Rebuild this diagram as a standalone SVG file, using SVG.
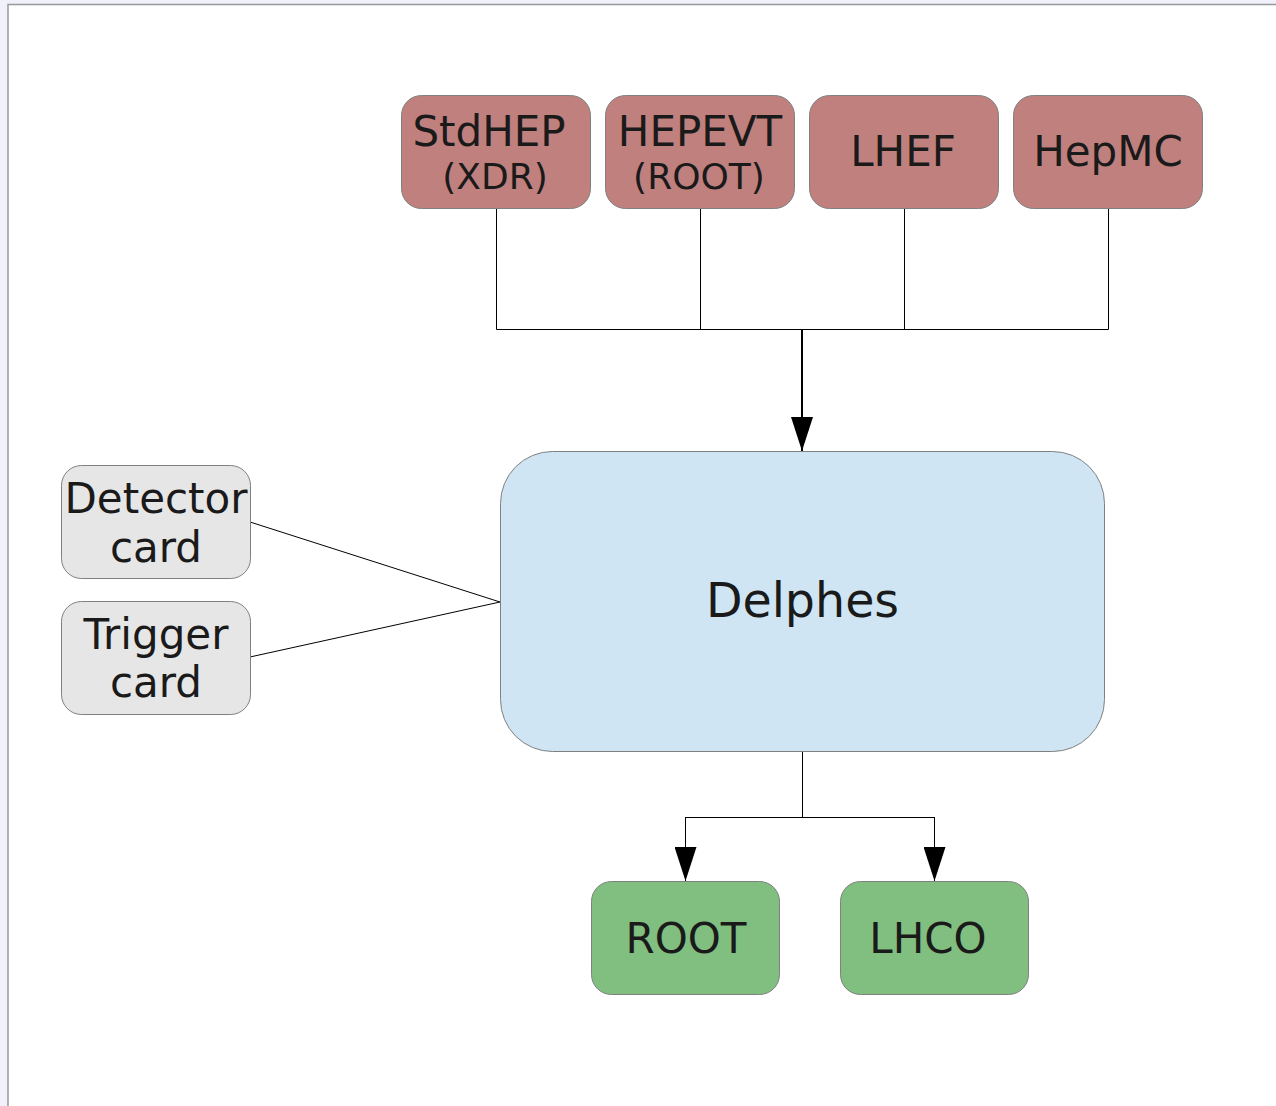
<svg xmlns="http://www.w3.org/2000/svg" width="1276" height="1106" viewBox="0 0 1276 1106">
<defs>
<style>
.t{font-family:"DejaVu Sans","Liberation Sans",sans-serif;fill:#1a1a1a;text-anchor:middle}
.src{fill:#c0807e;stroke:#808080;stroke-width:1}
.card{fill:#e6e6e6;stroke:#808080;stroke-width:1}
.out{fill:#80bf80;stroke:#808080;stroke-width:1}
.core{fill:#cfe5f3;stroke:#808080;stroke-width:1}
.thin{fill:none;stroke:#000;stroke-width:1}
.thick{fill:none;stroke:#000;stroke-width:2}
</style>
<marker id="ahd" viewBox="0 0 34 22" refX="34" refY="11" markerWidth="34" markerHeight="22" markerUnits="userSpaceOnUse" orient="auto">
<path d="M0,0 L34,11 L0,22 Z" fill="#000"/>
</marker>
</defs>
<rect x="0" y="0" width="1276" height="1106" fill="#f1f1fb"/>
<rect x="8" y="4.5" width="1270" height="1106" fill="#fff" stroke="#999" stroke-width="1.5"/>

<g id="connectors">
<path class="thin" d="M496.5,208 V329.5 M700.5,208 V329.5 M904.5,208 V329.5 M1108.5,208 V329.5 M496.5,329.5 H1108.5"/>
<path class="thick" d="M802,329 V451" marker-end="url(#ahd)"/>
<path class="thin" d="M250,522 L500,602 M250,657 L500,602"/>
<path class="thin" d="M802.5,752 V817.5 M685.5,817.5 H934.5"/>
<path class="thin" d="M685.5,817 V881" marker-end="url(#ahd)"/>
<path class="thin" d="M934.5,817 V881" marker-end="url(#ahd)"/>
</g>

<g id="stdhep">
<rect class="src" x="401.5" y="95.5" width="189" height="113" rx="20"/>
<text class="t" x="489" y="146" font-size="42">StdHEP</text>
<text class="t" x="495" y="189" font-size="36">(XDR)</text>
</g>
<g id="hepevt">
<rect class="src" x="605.5" y="95.5" width="189" height="113" rx="20"/>
<text class="t" x="700" y="146" font-size="42">HEPEVT</text>
<text class="t" x="699" y="189" font-size="36">(ROOT)</text>
</g>
<g id="lhef">
<rect class="src" x="809.5" y="95.5" width="189" height="113" rx="20"/>
<text class="t" x="903" y="166" font-size="42">LHEF</text>
</g>
<g id="hepmc">
<rect class="src" x="1013.5" y="95.5" width="189" height="113" rx="20"/>
<text class="t" x="1108" y="166" font-size="42">HepMC</text>
</g>

<g id="detector">
<rect class="card" x="61.5" y="465.5" width="189" height="113" rx="20"/>
<text class="t" x="156" y="513" font-size="42">Detector</text>
<text class="t" x="156" y="562" font-size="42">card</text>
</g>
<g id="trigger">
<rect class="card" x="61.5" y="601.5" width="189" height="113" rx="20"/>
<text class="t" x="156" y="649" font-size="42">Trigger</text>
<text class="t" x="156" y="697" font-size="42">card</text>
</g>

<g id="delphes">
<rect class="core" x="500.5" y="451.5" width="604" height="300" rx="52"/>
<text class="t" x="802.5" y="617" font-size="47.5">Delphes</text>
</g>

<g id="root">
<rect class="out" x="591.5" y="881.5" width="188" height="113" rx="20"/>
<text class="t" x="686" y="953" font-size="42">ROOT</text>
</g>
<g id="lhco">
<rect class="out" x="840.5" y="881.5" width="188" height="113" rx="20"/>
<text class="t" x="928" y="953" font-size="42">LHCO</text>
</g>
</svg>
